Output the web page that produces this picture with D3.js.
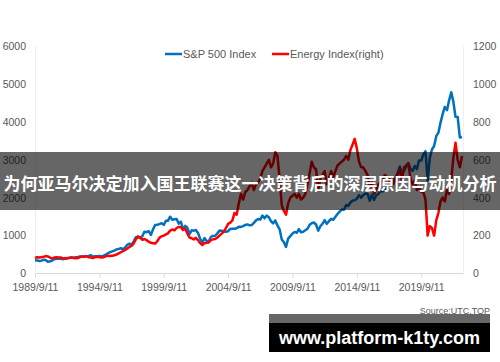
<!DOCTYPE html>
<html>
<head>
<meta charset="utf-8">
<script src="https://cdn.jsdelivr.net/npm/d3@7"></script>
<style>
  html, body { margin: 0; padding: 0; background: #fff; }
  svg { display: block; }
</style>
</head>
<body>
<script>
// S&P 500 vs Energy index, one value every two months from Sep 1989
const startDate = new Date(1989, 8, 11);
const stepMonths = 2;

const spxValues = [
  349, 346,
  329, 339, 361, 356, 306, 322,
  343, 375, 389, 387, 387, 375,
  408, 403, 415, 424, 418, 431,
  438, 451, 450, 448, 458, 462,
  481, 445, 456, 458, 462, 453,
  470, 500, 533, 562, 584, 605,
  636, 645, 669, 639, 687, 757,
  786, 757, 848, 954, 947, 955,
  980, 1101, 1090, 1120, 1017, 1163,
  1279, 1286, 1302, 1328, 1282, 1389,
  1394, 1498, 1420, 1430, 1436, 1315,
  1366, 1160, 1255, 1211, 1040, 1139,
  1130, 1147, 1067, 912, 815, 936,
  856, 848, 964, 990, 996, 1058,
  1131, 1126, 1121, 1101, 1115, 1174,
  1181, 1180, 1191, 1234, 1228, 1249,
  1280, 1295, 1270, 1277, 1336, 1401,
  1438, 1421, 1530, 1455, 1527, 1481,
  1378, 1323, 1400, 1267, 1166, 896,
  826, 700, 919, 987, 1057, 1096,
  1074, 1169, 1089, 1102, 1141, 1181,
  1286, 1326, 1345, 1292, 1131, 1247,
  1312, 1408, 1310, 1379, 1441, 1416,
  1498, 1569, 1631, 1686, 1682, 1806,
  1783, 1872, 1924, 1931, 1972, 2068,
  1995, 2068, 2107, 2104, 1920, 2080,
  1940, 2060, 2097, 2174, 2168, 2199,
  2279, 2363, 2412, 2470, 2519, 2648,
  2824, 2641, 2705, 2816, 2914, 2760,
  2704, 2834, 2752, 2980, 2977, 3141,
  3226, 2450, 3044, 3271, 3363, 3622,
  3714, 3973, 4204, 4395, 4308, 4567,
  4780, 4530, 4132, 4130, 3586, 3600
];

const energyValues = [
  82, 86,
  84, 86, 88, 92, 90, 84,
  80, 84, 86, 84, 85, 80,
  78, 80, 82, 84, 82, 80,
  82, 86, 90, 88, 92, 86,
  84, 82, 86, 88, 86, 84,
  86, 90, 94, 92, 94, 96,
  100, 106, 112, 118, 124, 132,
  140, 146, 158, 180, 196, 188,
  178, 182, 176, 168, 162, 160,
  158, 170, 188, 196, 200, 206,
  212, 226, 232, 228, 240, 246,
  244, 230, 236, 212, 190, 186,
  180, 188, 176, 160, 150, 160,
  162, 164, 176, 180, 182, 190,
  200, 210, 220, 240, 262, 268,
  280, 320, 310, 370, 420, 390,
  430, 440, 460, 480, 440, 470,
  480, 500, 540, 560, 580, 600,
  560, 580, 640, 620, 500, 360,
  330, 310, 370, 400, 410, 420,
  400, 420, 390, 400, 420, 470,
  530, 590, 560, 550, 440, 500,
  520, 540, 470, 500, 540, 510,
  540, 570, 580, 590, 600, 620,
  600, 650, 680, 710, 660, 590,
  560, 560, 540, 520, 460, 480,
  420, 440, 470, 480, 490, 520,
  510, 500, 470, 470, 500, 520,
  550, 490, 560, 570, 580, 500,
  470, 490, 440, 450, 430, 430,
  390, 200, 250, 240, 200, 280,
  320, 380, 400, 380, 440, 420,
  500, 610, 690, 600, 560, 620
];

const leftTicks = [0, 1000, 2000, 3000, 4000, 5000, 6000];
const rightTicks = [0, 200, 400, 600, 800, 1000, 1200];
const tickYears = [1989, 1994, 1999, 2004, 2009, 2014, 2019];
const seriesNames = ["S&P 500 Index", "Energy Index(right)"];
const seriesColors = ["#0070c0", "#ff0000"];
const title = "为何亚马尔决定加入国王联赛这一决策背后的深层原因与动机分析";
const watermark = "www.platform-k1ty.com";
const source = "Source:UTC.TOP";

const width = 500;
const height = 362;
const plot = { left: 35, right: 463, top: 46, bottom: 273.5 };

const dates = spxValues.map((d, i) => d3.timeMonth.offset(startDate, i * stepMonths));
const spx = spxValues.map((v, i) => ({ date: dates[i], value: v }));
const energy = energyValues.map((v, i) => ({ date: dates[i], value: v }));

const svg = d3.select("body")
  .append("svg")
  .attr("width", width)
  .attr("height", height)
  .style("font-family", "'Liberation Sans', Arial, sans-serif");

const xScale = d3.scaleTime()
  .domain([startDate, dates[dates.length - 1]])
  .range([plot.left, plot.right - 1]);

const yLeft = d3.scaleLinear().domain([0, 6000]).range([plot.bottom, plot.top]);
const yRight = d3.scaleLinear().domain([0, 1200]).range([plot.bottom, plot.top]);

const axisColor = "#d9d9d9";
const labelColor = "#595959";

// x axis
const xAxis = d3.axisBottom(xScale)
  .tickValues(tickYears.map(y => new Date(y, 8, 11)))
  .tickFormat(d3.timeFormat("%Y/%-m/%-d"))
  .tickSize(4)
  .tickPadding(6);

const gx = svg.append("g")
  .attr("transform", `translate(0, ${plot.bottom})`)
  .call(xAxis);
gx.select(".domain").attr("stroke", axisColor).attr("d", `M${plot.left},0H${plot.right}`);
gx.selectAll(".tick line").attr("stroke", axisColor);
gx.selectAll(".tick text").attr("fill", labelColor).attr("font-size", "10.5px");

// left axis
const gl = svg.append("g")
  .attr("transform", `translate(${plot.left}, 0)`)
  .call(d3.axisLeft(yLeft).tickValues(leftTicks).tickFormat(d3.format("d")).tickSize(0).tickPadding(9));
gl.select(".domain").attr("stroke", "#efefef");
gl.selectAll(".tick text").attr("fill", labelColor).attr("font-size", "10.5px");

// right axis
const gr = svg.append("g")
  .attr("transform", `translate(${plot.right}, 0)`)
  .call(d3.axisRight(yRight).tickValues(rightTicks).tickFormat(d3.format("d")).tickSize(0).tickPadding(10));
gr.select(".domain").attr("stroke", "#efefef");
gr.selectAll(".tick text").attr("fill", labelColor).attr("font-size", "10.5px");

// lines
const lineLeft = d3.line().x(d => xScale(d.date)).y(d => yLeft(d.value));
const lineRight = d3.line().x(d => xScale(d.date)).y(d => yRight(d.value));

svg.append("path")
  .datum(spx)
  .attr("d", lineLeft)
  .attr("fill", "none")
  .attr("stroke", seriesColors[0])
  .attr("stroke-width", 2.5)
  .attr("stroke-linejoin", "round");

svg.append("path")
  .datum(energy)
  .attr("d", lineRight)
  .attr("fill", "none")
  .attr("stroke", seriesColors[1])
  .attr("stroke-width", 2.5)
  .attr("stroke-linejoin", "round");

// legend
const legendX = [165, 272];
seriesNames.forEach((name, i) => {
  const lg = svg.append("g").attr("transform", `translate(${legendX[i]}, 54)`);
  lg.append("line")
    .attr("x1", 0).attr("x2", 17)
    .attr("stroke", seriesColors[i])
    .attr("stroke-width", 2.5);
  lg.append("text")
    .attr("x", 18)
    .attr("dy", "0.35em")
    .attr("font-size", "11px")
    .attr("fill", labelColor)
    .text(name);
});

// source note
svg.append("text")
  .attr("x", 490)
  .attr("y", 314)
  .attr("text-anchor", "end")
  .attr("font-size", "9px")
  .attr("fill", labelColor)
  .text(source);

// title banner over the chart
svg.append("rect")
  .attr("x", 0).attr("y", 152)
  .attr("width", width).attr("height", 58)
  .attr("fill", "rgba(0,0,0,0.6)");

svg.append("text")
  .attr("x", width / 2)
  .attr("y", 184)
  .attr("dy", "0.35em")
  .attr("text-anchor", "middle")
  .attr("font-family", "'Noto Sans CJK SC', sans-serif")
  .attr("font-weight", "bold")
  .attr("font-size", "17px")
  .attr("fill", "#fff")
  .text(title);

// watermark box
svg.append("rect")
  .attr("x", 269).attr("y", 314)
  .attr("width", 221).attr("height", 9)
  .attr("fill", "rgba(0,0,0,0.6)");

svg.append("rect")
  .attr("x", 269).attr("y", 323)
  .attr("width", 221).attr("height", 29)
  .attr("fill", "#000");

svg.append("text")
  .attr("x", 379.5)
  .attr("y", 338)
  .attr("dy", "0.35em")
  .attr("text-anchor", "middle")
  .attr("font-weight", "bold")
  .attr("font-size", "18px")
  .attr("fill", "#fff")
  .text(watermark);
</script>
</body>
</html>
